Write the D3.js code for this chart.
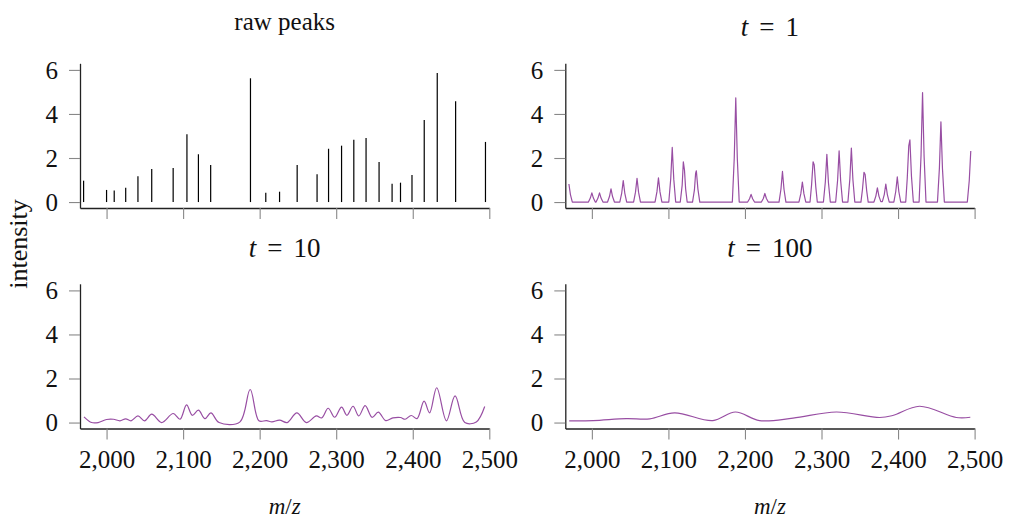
<!DOCTYPE html>
<html><head><meta charset="utf-8">
<script src="https://cdn.jsdelivr.net/npm/d3@7"></script>
<style>
body{margin:0;background:#fff;}
svg{display:block;}
text{font-family:"Liberation Serif","DejaVu Serif",serif;fill:#111;}
</style></head>
<body><svg id="c" width="1010" height="522"></svg>
<script>
// ---- data ----
const xTicks = [2000, 2100, 2200, 2300, 2400, 2500];
const xTickLabels = ["2,000", "2,100", "2,200", "2,300", "2,400", "2,500"];
const yTicks = [0, 2, 4, 6];
const panelTitles = ["raw peaks", "t = 1", "t = 10", "t = 100"];

// raw peaks: [m/z, intensity]
const rawPeaks = [
  [1970,0.97],[2000,0.55],[2010,0.53],[2025,0.65],[2041,1.17],[2059,1.50],[2087,1.55],
  [2105,3.08],[2120,2.17],[2136,1.68],[2188,5.62],[2208,0.42],[2226,0.47],[2249,1.68],
  [2275,1.26],[2290,2.42],[2307,2.56],[2323,2.83],[2339,2.91],[2356,1.82],[2373,0.83],
  [2384,0.88],[2399,1.23],[2415,3.73],[2432,5.86],[2456,4.58],[2495,2.73]
];

// t = 1 curve vertices
const curveT1 = [
  [1970,0.82],[1972,0.34],[1974.5,0],
  [1995.5,0],[1998,0.18],[2000,0.42],[2002,0.18],[2004.5,0],
  [2005.5,0],[2008,0.18],[2010,0.42],[2012,0.18],[2014.5,0],
  [2020.5,0],[2023,0.25],[2025,0.6],[2027,0.25],[2029.5,0],
  [2036.5,0],[2039,0.41],[2041,0.97],[2043,0.41],[2045.5,0],
  [2054.5,0],[2057,0.45],[2059,1.08],[2061,0.45],[2063.5,0],
  [2082.5,0],[2085,0.46],[2087,1.1],[2089,0.46],[2091.5,0],
  [2100.5,0],[2103,1.04],[2105,2.48],[2107,1.04],[2109.5,0],
  [2115.5,0],[2118,0.77],[2119.5,1.83],[2121,1.45],[2122.5,0.6],[2124.5,0],
  [2131.5,0],[2134,0.55],[2135.5,1.3],[2136.5,1.42],[2138.5,0.6],[2141,0],
  [2183.5,0],[2186,1.99],[2188,4.73],[2190,1.99],[2192.5,0],
  [2203.5,0],[2206,0.15],[2208,0.35],[2210,0.15],[2212.5,0],
  [2221.5,0],[2224,0.16],[2226,0.39],[2228,0.16],[2230.5,0],
  [2244.5,0],[2247,0.58],[2249,1.39],[2251,0.58],[2253.5,0],
  [2270.5,0],[2273,0.38],[2275,0.91],[2277,0.38],[2279.5,0],
  [2285,0],[2287,0.77],[2289,1.83],[2290.5,1.68],[2292.5,0.7],[2294.5,0],
  [2302.5,0],[2305,0.91],[2307,2.17],[2309,0.91],[2311.5,0],
  [2318.5,0],[2321,0.98],[2323,2.33],[2325,0.98],[2327.5,0],
  [2334.5,0],[2337,1.03],[2339,2.45],[2341,1.03],[2343.5,0],
  [2351.5,0],[2353.5,0.57],[2355.5,1.35],[2357,1.25],[2359,0.52],[2361,0],
  [2368.5,0],[2371,0.27],[2373,0.64],[2375,0.27],[2377.5,0.02],
  [2379.5,0.02],[2382,0.34],[2384,0.82],[2386,0.34],[2388.5,0],
  [2394.5,0],[2397,0.48],[2399,1.14],[2401,0.48],[2403.5,0],
  [2410,0],[2412,1.07],[2414,2.55],[2415.5,2.82],[2417.5,1.18],[2420,0],
  [2427.5,0],[2430,2.09],[2432,4.97],[2434,2.09],[2436.5,0],
  [2451.5,0],[2454,1.53],[2456,3.64],[2458,1.53],[2460.5,0],
  [2490.5,0],[2493,0.97],[2495,2.32]
];

// t = 10 curve points
const curveT10 = [
  [1970.5,0.26],[1980.5,0.0],[1989,0.0],[2000,0.14],[2009,0.15],[2017.5,0.08],[2025,0.17],
  [2032,0.08],[2041,0.30],[2049.7,0.08],[2059,0.38],[2072,0.0],[2087,0.41],[2096,0.15],
  [2104.5,0.80],[2112,0.33],[2120,0.56],[2128.5,0.18],[2136.3,0.44],[2147,0.0],[2174,0.02],
  [2187.6,1.50],[2199,0.08],[2209,0.09],[2216,0.03],[2226,0.11],[2236,0.0],[2248.6,0.44],
  [2261,0.0],[2274,0.30],[2281,0.21],[2289.5,0.65],[2298,0.24],[2307,0.70],[2314,0.33],
  [2322,0.74],[2329.5,0.30],[2337.8,0.77],[2346.9,0.24],[2355,0.47],[2364.7,0.09],
  [2374,0.21],[2384,0.23],[2390,0.15],[2398,0.32],[2405.6,0.18],[2414.8,0.97],[2422,0.44],
  [2431.3,1.58],[2444,0.08],[2455.3,1.21],[2468,0.0],[2483,0.03],[2494,0.73]
];

// t = 100 curve points
const curveT100 = [
  [1970.4,0.08],[2001.7,0.09],[2045,0.18],[2075.7,0.17],[2108,0.44],[2158,0.09],
  [2187.5,0.48],[2219,0.09],[2262.8,0.20],[2319.4,0.48],[2376,0.23],[2393,0.32],
  [2428,0.74],[2476,0.23],[2494.4,0.24]
];

// ---- drawing ----
const svg = d3.select("#c");
svg.append("rect").attr("width",1010).attr("height",522).attr("fill","#fff");

const purple = "#984ea3";
const panelW = 409.3, panelH = 144.7;
const origins = [[80,63.3],[565.3,63.3],[80,283.8],[565.3,283.8]];

function makePanel(i){
  const [x0,y0] = origins[i];
  const g = svg.append("g");
  const x = d3.scaleLinear().domain([1965.3,2500]).range([x0, x0+panelW]);
  const y = d3.scaleLinear().domain([-0.27,6.3]).range([y0+panelH, y0]);

  const bottom = i >= 2;
  const xa = d3.axisBottom(x).tickValues(xTicks).tickSizeInner(11).tickSizeOuter(0).tickPadding(6)
     .tickFormat((d,k)=> bottom ? xTickLabels[k] : "");
  const gx = g.append("g").attr("transform",`translate(0,${y0+panelH})`).call(xa);
  const ya = d3.axisLeft(y).tickValues(yTicks).tickSizeInner(11).tickSizeOuter(0).tickPadding(11)
     .tickFormat(d3.format("d"));
  const gy = g.append("g").attr("transform",`translate(${x0},0)`).call(ya);
  [gx,gy].forEach(a=>{
    a.select(".domain").attr("stroke","#222").attr("stroke-width",1.3);
    a.selectAll(".tick line").attr("stroke","#888").attr("stroke-width",1.1);
    a.selectAll(".tick text").attr("font-family","Liberation Serif").attr("font-size",25).attr("fill","#111");
  });
  gx.selectAll(".tick text").attr("dy","0.9em");
  gy.selectAll(".tick text").attr("dy","0.33em");

  // title
  const tx = x0 + panelW/2, ty = y0 - 27.3 + (i===0 ? -6 : 0);
  const t = g.append("text").attr("x",tx).attr("y",ty).attr("text-anchor","middle")
    .attr("font-size", i===0 ? 25 : 27);
  if(i===0){ t.text(panelTitles[0]); }
  else {
    const parts = panelTitles[i].split(" = ");
    t.append("tspan").attr("font-style","italic").text(parts[0]);
    t.append("tspan").attr("dx",11).text("=");
    t.append("tspan").attr("dx",11).text(parts[1]);
  }
  if(bottom){
    const m = g.append("text").attr("x",tx).attr("y",514).attr("text-anchor","middle").attr("font-size",23);
    m.append("tspan").attr("font-style","italic").text("m");
    m.append("tspan").text("/");
    m.append("tspan").attr("font-style","italic").text("z");
  }
  return {g,x,y};
}

const p0 = makePanel(0);
p0.g.selectAll("line.peak").data(rawPeaks).join("line").attr("class","peak")
  .attr("x1",d=>p0.x(d[0])).attr("x2",d=>p0.x(d[0]))
  .attr("y1",p0.y(0)).attr("y2",d=>p0.y(d[1]))
  .attr("stroke","#000").attr("stroke-width",1.2);

const curves = [curveT1, curveT10, curveT100];
const curveTypes = [d3.curveLinear, d3.curveCatmullRom.alpha(0.5), d3.curveCatmullRom.alpha(0.5)];
[1,2,3].forEach(i=>{
  const p = makePanel(i);
  const line = d3.line().x(d=>p.x(d[0])).y(d=>p.y(d[1])).curve(curveTypes[i-1]);
  p.g.append("path").datum(curves[i-1]).attr("d",line)
    .attr("fill","none").attr("stroke",purple).attr("stroke-width",1.2).attr("stroke-linejoin","round");
});

svg.append("text").attr("transform","translate(27,244) rotate(-90)")
  .attr("text-anchor","middle").attr("font-size",26).text("intensity");
</script>
</body></html>
